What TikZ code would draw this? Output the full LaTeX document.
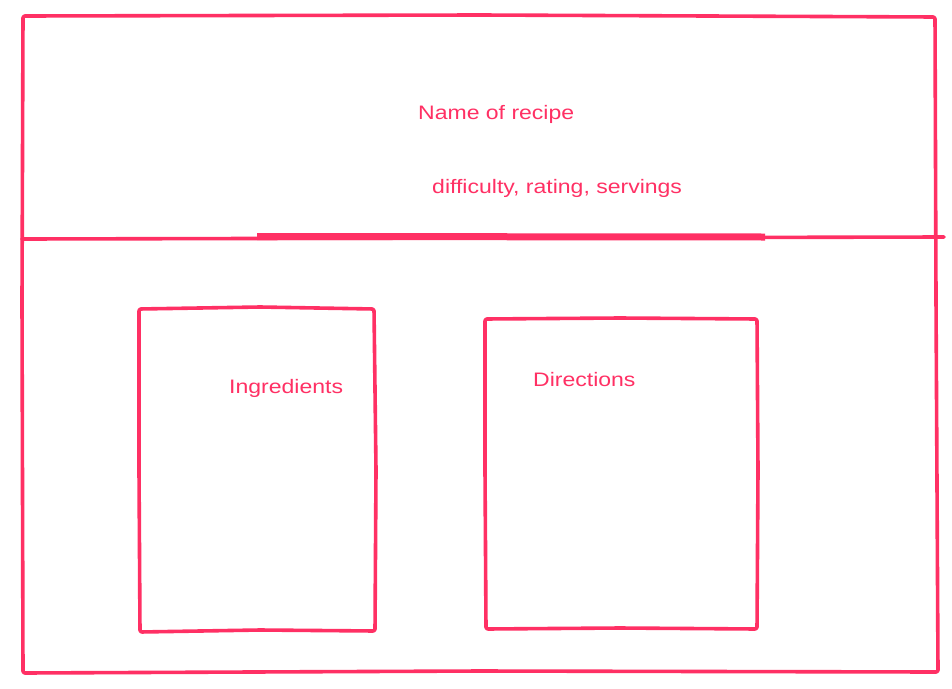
\documentclass[tikz,border=0pt]{standalone}
\usepackage{fontspec}
\setmainfont{Liberation Sans}[FakeStretch=1.18]
\definecolor{sketch}{RGB}{255,48,100}
\begin{document}
\begin{tikzpicture}[x=1pt,y=-1pt,
  stroke/.style={draw=sketch,line width=3.6pt,line join=round,line cap=round,rounded corners=2pt},
  label/.style={text=sketch,font=\fontsize{19.5}{22}\selectfont,inner sep=0pt,anchor=base west}]
\useasboundingbox[fill=white] (0,0) rectangle (952,688);
% outer frame
\draw[stroke] (23,16) -- (480,15) -- (935,17) -- (936,300) -- (938,672) -- (480,671) -- (23,673) -- (22,300) -- cycle;
% divider
\draw[stroke,rounded corners=0pt] (22,239) -- (944,237);
\draw[draw=sketch,line width=7pt] (257,236.5) -- (765,237);
% ingredients box
\draw[stroke] (139,309) -- (260,307) -- (374,309) -- (376,470) -- (375,631) -- (260,630) -- (140,632) -- (139,470) -- cycle;
% directions box
\draw[stroke] (485,319) -- (620,318) -- (757,319) -- (758,470) -- (757,629) -- (620,628) -- (486,629) -- (485,470) -- cycle;
% texts
\node[label] (name) at (418,119) {Name of recipe};
\node[label] (meta) at (432,193) {difficulty, rating, servings};
\node[label] (ingr) at (229,393) {Ingredients};
\node[label] (dir) at (533,386) {Directions};
\end{tikzpicture}
\end{document}
